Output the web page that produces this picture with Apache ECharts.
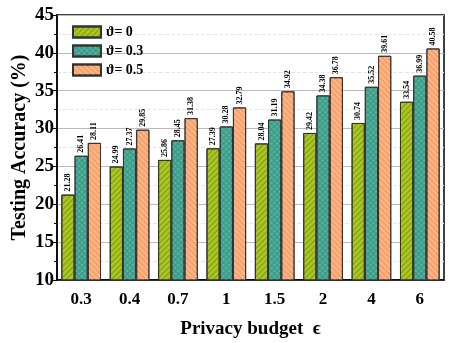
<!DOCTYPE html>
<html>
<head>
<meta charset="utf-8">
<script src="https://cdn.jsdelivr.net/npm/echarts@6/dist/echarts.min.js"></script>
<style>
  html, body { margin: 0; padding: 0; background: #fff; }
  #chart { width: 449px; height: 343px; }
</style>
</head>
<body>
<div id="chart"></div>
<script>
const categories = ['0.3', '0.4', '0.7', '1', '1.5', '2', '4', '6'];
const seriesNames = ['\u03d1= 0', '\u03d1= 0.3', '\u03d1= 0.5'];
const theta0 = [21.28, 24.99, 25.86, 27.39, 28.04, 29.42, 30.74, 33.54];
const theta03 = [26.41, 27.37, 28.45, 30.28, 31.19, 34.38, 35.52, 36.99];
const theta05 = [28.11, 29.85, 31.38, 32.79, 34.92, 36.78, 39.61, 40.58];

const serif = 'Liberation Serif';
const colors = ['#a9c71f', '#3a9e8a', '#f9a46e'];
const decals = [
    { symbol: 'rect', dashArrayX: [1, 0], dashArrayY: [1, 3], rotation: -Math.PI / 4, color: 'rgba(60,80,20,0.4)' },
    { symbol: 'diamond', symbolSize: 1, dashArrayX: [[3, 1]], dashArrayY: [3, 1], rotation: Math.PI / 4, color: 'rgba(190,225,215,0.35)' },
    { symbol: 'rect', dashArrayX: [1, 0], dashArrayY: [1, 3], rotation: Math.PI / 4, color: 'rgba(255,215,185,0.6)' }
];
const allData = [theta0, theta03, theta05];

const chart = echarts.init(document.getElementById('chart'));

const option = {
    animation: false,
    aria: { enabled: true, decal: { show: true } },
    legend: {
        orient: 'vertical',
        left: 67,
        top: 20,
        icon: 'rect',
        itemWidth: 28,
        itemHeight: 11,
        itemGap: 5,
        textStyle: { fontFamily: serif, fontWeight: 'bold', fontSize: 14, color: '#000' },
        data: seriesNames
    },
    grid: {
        left: 57, right: 5, top: 15, bottom: 63,
        outerBoundsMode: 'none',
        show: true,
        borderColor: '#000',
        borderWidth: 1.5
    },
    xAxis: [{
        type: 'category',
        data: categories,
        name: 'Privacy budget  \u03f5',
        nameLocation: 'middle',
        nameGap: 40,
        nameMoveOverlap: false,
        nameTextStyle: { fontFamily: serif, fontWeight: 'bold', fontSize: 19, color: '#000' },
        axisLine: { lineStyle: { color: '#000', width: 1.5 } },
        axisTick: { alignWithLabel: true, length: 5, lineStyle: { color: '#000' } },
        axisLabel: { fontFamily: serif, fontWeight: 'bold', fontSize: 17, color: '#000', margin: 11 }
    }, {
        type: 'category',
        data: categories,
        position: 'bottom',
        axisLine: { show: false },
        axisTick: { length: 3, lineStyle: { color: '#000' } },
        axisLabel: { show: false }
    }],
    yAxis: {
        type: 'value',
        min: 10,
        max: 45,
        interval: 5,
        name: 'Testing Accuracy (%)',
        nameLocation: 'middle',
        nameGap: 27,
        nameMoveOverlap: false,
        nameTextStyle: { fontFamily: serif, fontWeight: 'bold', fontSize: 20, color: '#000' },
        axisLine: { show: true, lineStyle: { color: '#000', width: 1.5 } },
        axisTick: { show: true, length: 6, lineStyle: { color: '#000' } },
        minorTick: { show: true, splitNumber: 2, length: 3, lineStyle: { color: '#000' } },
        axisLabel: { fontFamily: serif, fontWeight: 'bold', fontSize: 19, color: '#000', margin: 3 },
        splitLine: { show: true, lineStyle: { color: '#bbb', width: 1 } },
        minorSplitLine: { show: true, lineStyle: { color: '#e6e6e6', type: 'dashed' } }
    },
    series: allData.map((vals, i) => ({
        name: seriesNames[i],
        type: 'bar',
        data: vals,
        barGap: '0%',
        barCategoryGap: '18%',
        itemStyle: { color: colors[i], borderColor: '#333', borderWidth: 1, decal: decals[i] },
        label: {
            show: true,
            position: 'top',
            rotate: 90,
            align: 'left',
            verticalAlign: 'middle',
            distance: 3,
            fontFamily: serif,
            fontWeight: 'bold',
            fontSize: 8,
            color: '#000',
            formatter: p => p.value.toFixed(2)
        }
    }))
};

chart.setOption(option);
</script>
</body>
</html>
